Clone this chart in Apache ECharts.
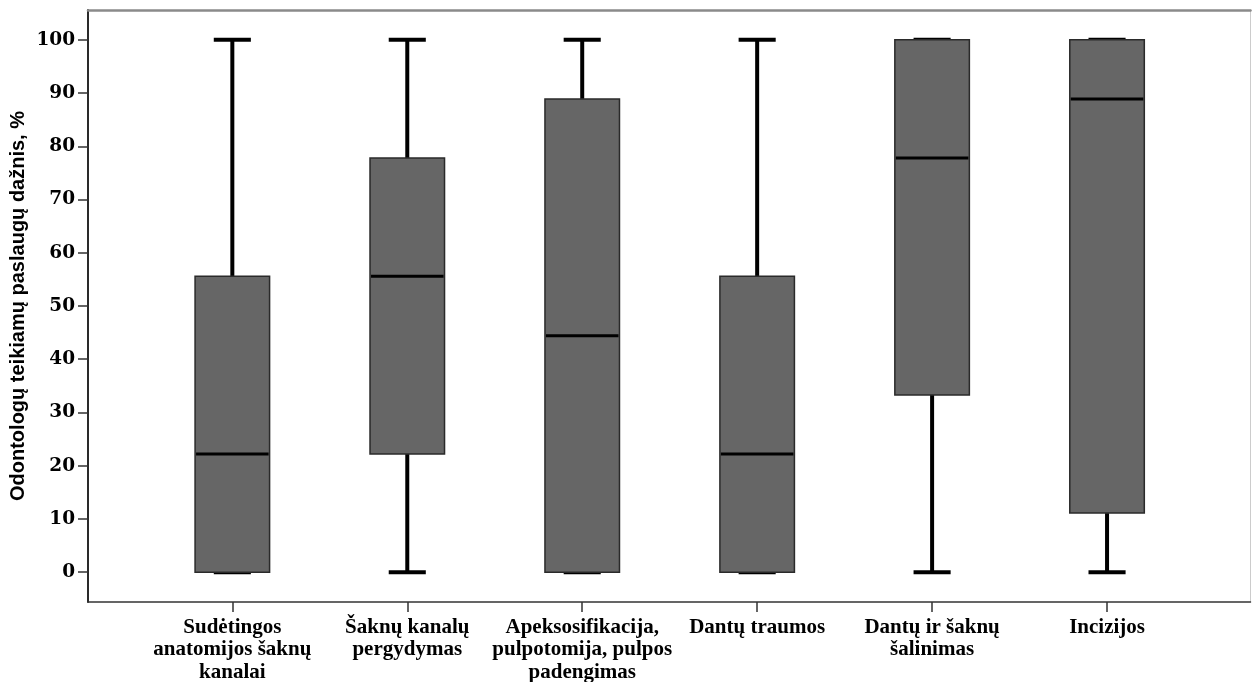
<!DOCTYPE html>
<html>
<head>
<meta charset="utf-8">
<script src="https://cdn.jsdelivr.net/npm/echarts@6/dist/echarts.min.js"></script>
<style>
html,body{margin:0;padding:0;background:#fff;}
#chart{width:1252px;height:682px;}
</style>
</head>
<body>
<div id="chart"></div>
<script>
const categories = [
  "Sudėtingos\nanatomijos šaknų\nkanalai",
  "Šaknų kanalų\npergydymas",
  "Apeksosifikacija,\npulpotomija, pulpos\npadengimas",
  "Dantų traumos",
  "Dantų ir šaknų\nšalinimas",
  "Incizijos"
];
const mins    = [0, 0, 0, 0, 0, 0];
const q1s     = [0, 22.2, 0, 0, 33.3, 11.1];
const medians = [22.2, 55.6, 44.4, 22.2, 77.8, 88.9];
const q3s     = [55.6, 77.8, 88.9, 55.6, 100, 100];
const maxs    = [100, 100, 100, 100, 100, 100];
const yTicks  = [0, 10, 20, 30, 40, 50, 60, 70, 80, 90, 100];
const yTitle  = "Odontologų teikiamų paslaugų dažnis, %";

const data = categories.map((c, i) => [i, mins[i], q1s[i], medians[i], q3s[i], maxs[i]]);
const xPositions = categories.map((c, i) => i);

const chart = echarts.init(document.getElementById('chart'));

function renderItem(params, api) {
  const x = api.value(0);
  const pMin = api.coord([x, api.value(1)]);
  const pQ1 = api.coord([x, api.value(2)]);
  const pMed = api.coord([x, api.value(3)]);
  const pQ3 = api.coord([x, api.value(4)]);
  const pMax = api.coord([x, api.value(5)]);
  const unit = api.size([1, 0])[0];
  const boxW = unit * 0.426;
  const capW = unit * 0.212;
  const cx = pMed[0];
  const lineStyle = {stroke: '#000', lineWidth: 4};
  return {
    type: 'group',
    children: [
      {type: 'line', shape: {x1: cx, y1: pMax[1], x2: cx, y2: pQ3[1]}, style: lineStyle},
      {type: 'line', shape: {x1: cx, y1: pQ1[1], x2: cx, y2: pMin[1]}, style: lineStyle},
      {type: 'line', shape: {x1: cx - capW / 2, y1: pMax[1], x2: cx + capW / 2, y2: pMax[1]}, style: lineStyle},
      {type: 'line', shape: {x1: cx - capW / 2, y1: pMin[1], x2: cx + capW / 2, y2: pMin[1]}, style: lineStyle},
      {type: 'rect', shape: {x: cx - boxW / 2, y: pQ3[1], width: boxW, height: pQ1[1] - pQ3[1]},
        style: {fill: '#666666', stroke: '#2a2a2a', lineWidth: 1.5}},
      {type: 'line', shape: {x1: cx - boxW / 2 + 1, y1: pMed[1], x2: cx + boxW / 2 - 1, y2: pMed[1]},
        style: {stroke: '#000', lineWidth: 3}}
    ]
  };
}

chart.setOption({
  animation: false,
  backgroundColor: '#ffffff',
  grid: {left: 88, right: 1.5, top: 10, bottom: 80, show: false, containLabel: false, outerBoundsMode: 'none'},
  xAxis: [{
    type: 'value',
    min: -0.825,
    max: 5.82,
    position: 'bottom',
    splitLine: {show: false},
    axisLine: {show: true, onZero: false, lineStyle: {color: '#333', width: 1.5}},
    axisTick: {show: true, length: 10, customValues: xPositions, lineStyle: {color: '#333', width: 1.5}},
    axisLabel: {
      show: true,
      customValues: xPositions,
      formatter: v => categories[Math.round(v)] || '',
      fontFamily: 'Liberation Serif',
      fontWeight: 'bold',
      fontSize: 21,
      lineHeight: 22.5,
      color: '#000',
      margin: 14
    }
  }, {
    type: 'value',
    min: -0.825,
    max: 5.82,
    position: 'top',
    splitLine: {show: false},
    axisLine: {show: true, onZero: false, lineStyle: {color: '#8a8a8a', width: 2.5}},
    axisTick: {show: false},
    axisLabel: {show: false}
  }],
  yAxis: [{
    type: 'value',
    min: -5.6,
    max: 105.6,
    position: 'left',
    name: yTitle,
    nameLocation: 'middle',
    nameGap: 60,
    nameMoveOverlap: false,
    nameTextStyle: {fontFamily: 'Liberation Sans', fontWeight: 'bold', fontSize: 20, color: '#000'},
    splitLine: {show: false},
    axisLine: {show: true, onZero: false, lineStyle: {color: '#2a2a2a', width: 2}},
    axisTick: {show: true, length: 10, customValues: yTicks, lineStyle: {color: '#333', width: 1.5}},
    axisLabel: {
      show: true,
      customValues: yTicks,
      fontFamily: 'DejaVu Serif',
      fontWeight: 'bold',
      fontSize: 18.5,
      color: '#000',
      margin: 13,
      padding: [6, 0, 0, 0]
    }
  }, {
    type: 'value',
    min: -5.6,
    max: 105.6,
    position: 'right',
    splitLine: {show: false},
    axisLine: {show: true, onZero: false, lineStyle: {color: '#cccccc', width: 1}},
    axisTick: {show: false},
    axisLabel: {show: false}
  }],
  series: [{
    type: 'custom',
    renderItem: renderItem,
    xAxisIndex: 0,
    yAxisIndex: 0,
    encode: {x: 0, y: [1, 2, 3, 4, 5]},
    data: data
  }]
});
</script>
</body>
</html>
